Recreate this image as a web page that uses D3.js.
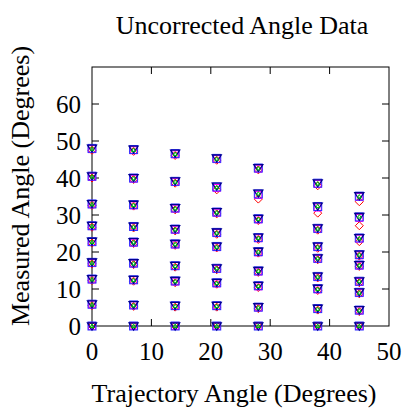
<!DOCTYPE html>
<html>
<head>
<meta charset="utf-8">
<script src="https://cdn.jsdelivr.net/npm/d3@7"></script>
<style>
  body { margin: 0; background: #fff; }
  svg text { font-family: "Liberation Serif", "DejaVu Serif", serif; fill: #000; }
</style>
</head>
<body>
<svg id="chart"></svg>
<script>
// trajectory angles (x) and measured angles per column (y)
var trajectory = [0, 7, 14, 21, 28, 38, 45];

var blueSquare = [
  [48.0, 40.5, 33.0, 27.1, 22.8, 17.2, 12.7, 5.9, 0],
  [47.7, 40.0, 32.8, 26.9, 22.7, 17.0, 12.5, 5.7, 0],
  [46.6, 39.1, 31.9, 26.2, 22.2, 16.3, 12.2, 5.5, 0],
  [45.3, 37.6, 30.8, 25.3, 21.5, 15.6, 11.7, 5.5, 0],
  [42.7, 35.7, 29.0, 23.9, 20.1, 14.9, 10.9, 5.1, 0],
  [38.6, 32.3, 26.4, 21.5, 18.3, 13.4, 10.1, 4.7, 0],
  [35.1, 29.5, 23.8, 19.3, 16.5, 12.1, 9.1, 4.3, 0]
];
var magentaSquare = [
  [47.8, 40.3, 32.9, 27.0, 22.7, 17.0, 12.6, 5.8, 0],
  [47.5, 39.8, 32.6, 26.8, 22.5, 16.9, 12.4, 5.6, 0],
  [46.4, 38.9, 31.7, 26.0, 22.0, 16.2, 12.0, 5.4, 0],
  [45.1, 37.3, 30.6, 25.1, 21.3, 15.4, 11.5, 5.4, 0],
  [42.5, 35.4, 28.8, 23.7, 19.9, 14.7, 10.7, 5.0, 0],
  [38.4, 32.0, 26.2, 21.3, 18.1, 13.2, 9.9, 4.6, 0],
  [34.9, 29.2, 23.6, 19.1, 16.3, 11.9, 8.9, 4.2, 0]
];
var navyTriangle = [
  [48.1, 40.6, 33.1, 27.2, 22.9, 17.3, 12.8, 6.0, 0],
  [47.8, 40.1, 32.9, 27.0, 22.8, 17.1, 12.6, 5.8, 0],
  [46.7, 39.2, 32.0, 26.3, 22.3, 16.4, 12.3, 5.6, 0],
  [45.4, 37.8, 30.9, 25.4, 21.6, 15.7, 11.8, 5.6, 0],
  [42.8, 35.9, 29.1, 24.0, 20.2, 15.0, 11.0, 5.2, 0],
  [38.7, 32.4, 26.5, 21.6, 18.4, 13.5, 10.2, 4.8, 0],
  [35.2, 29.6, 23.9, 19.4, 16.6, 12.2, 9.2, 4.4, 0]
];
var greenTriangle = [
  [47.9, 40.4, 32.9, 27.0, 22.7, 17.1, 12.6, 5.8, 0],
  [47.6, 39.9, 32.7, 26.8, 22.6, 16.9, 12.4, 5.6, 0],
  [46.5, 39.0, 31.8, 26.1, 22.1, 16.2, 12.1, 5.4, 0],
  [45.2, 37.5, 30.7, 25.2, 21.4, 15.6, 11.6, 5.4, 0],
  [42.6, 35.8, 28.9, 23.8, 20.1, 14.9, 10.8, 5.0, 0],
  [38.5, 32.4, 26.3, 21.4, 18.3, 13.3, 10.0, 4.6, 0],
  [35.0, 29.6, 23.7, 19.3, 16.4, 12.1, 9.0, 4.2, 0]
];
var redDiamond = [
  [47.5, 40.0, 32.6, 26.7, 22.4, 16.8, 12.3, 5.5, 0],
  [47.2, 39.6, 32.4, 26.5, 22.3, 16.6, 12.1, 5.3, 0],
  [46.1, 38.6, 31.4, 25.7, 21.8, 15.9, 11.7, 5.1, 0],
  [44.8, 36.8, 30.3, 24.8, 21.1, 15.2, 11.3, 5.1, 0],
  [42.2, 34.3, 28.5, 23.4, 19.7, 14.5, 10.4, 4.7, 0],
  [37.9, 30.5, 25.9, 21.0, 17.9, 13.0, 9.6, 4.3, 0],
  [33.6, 27.1, 22.8, 18.9, 16.1, 11.7, 8.7, 3.9, 0]
];

var xTicks = [0, 10, 20, 30, 40, 50];
var yTicks = [0, 10, 20, 30, 40, 50, 60];

var screen = {width: 404, height: 412};
var plot = {left: 92, right: 389, top: 67, bottom: 326};

var svg = d3.select("#chart")
  .attr("width", screen.width)
  .attr("height", screen.height);

var x = d3.scaleLinear().domain([0, 50]).range([plot.left, plot.right]);
var y = d3.scaleLinear().domain([0, 70]).range([plot.bottom, plot.top]);

// turn a column table into points
var toPoints = function(table) {
  var pts = [];
  table.forEach(function(col, i) {
    col.forEach(function(v) { pts.push({x: trajectory[i], y: v}); });
  });
  return pts;
};

// tick marks, pointing inwards on all four sides
var ticks = svg.append("g").attr("stroke", "#000").attr("stroke-width", 1);
xTicks.slice(1, -1).forEach(function(t) {
  ticks.append("line").attr("x1", x(t)).attr("x2", x(t)).attr("y1", plot.bottom).attr("y2", plot.bottom - 7);
  ticks.append("line").attr("x1", x(t)).attr("x2", x(t)).attr("y1", plot.top).attr("y2", plot.top + 7);
});
yTicks.slice(1).forEach(function(t) {
  ticks.append("line").attr("x1", plot.left).attr("x2", plot.left + 7).attr("y1", y(t)).attr("y2", y(t));
  ticks.append("line").attr("x1", plot.right).attr("x2", plot.right - 7).attr("y1", y(t)).attr("y2", y(t));
});

// frame
svg.append("rect")
  .attr("x", plot.left).attr("y", plot.top)
  .attr("width", plot.right - plot.left).attr("height", plot.bottom - plot.top)
  .attr("fill", "none").attr("stroke", "#000").attr("stroke-width", 1);

// tick labels
svg.append("g").selectAll("text").data(xTicks).enter().append("text")
  .attr("x", function(d) { return x(d); })
  .attr("y", plot.bottom + 34)
  .attr("text-anchor", "middle")
  .style("font-size", "25px")
  .text(function(d) { return d; });

svg.append("g").selectAll("text").data(yTicks).enter().append("text")
  .attr("x", plot.left - 11)
  .attr("y", function(d) { return y(d); })
  .attr("dy", "0.35em")
  .attr("text-anchor", "end")
  .style("font-size", "25px")
  .text(function(d) { return d; });

// titles
svg.append("text").attr("x", 242).attr("y", 34).attr("text-anchor", "middle")
  .style("font-size", "26px").text("Uncorrected Angle Data");
svg.append("text").attr("x", 234).attr("y", 402).attr("text-anchor", "middle")
  .style("font-size", "26px").text("Trajectory Angle (Degrees)");
svg.append("text").attr("transform", "translate(29,186) rotate(-90)").attr("text-anchor", "middle")
  .style("font-size", "26px").text("Measured Angle (Degrees)");

// markers
var marks = svg.append("g").attr("fill", "none").attr("stroke-width", 1);

marks.selectAll(".red").data(toPoints(redDiamond)).enter().append("path").attr("class", "red")
  .attr("d", function(d) { var cx = x(d.x), cy = y(d.y);
    return "M" + cx + "," + (cy - 4) + "L" + (cx + 4) + "," + cy + "L" + cx + "," + (cy + 4) + "L" + (cx - 4) + "," + cy + "Z"; })
  .attr("stroke", "#ff0000");

marks.selectAll(".mag").data(toPoints(magentaSquare)).enter().append("rect").attr("class", "mag")
  .attr("x", function(d) { return x(d.x) - 3.5; })
  .attr("y", function(d) { return y(d.y) - 3.5; })
  .attr("width", 7).attr("height", 7)
  .attr("stroke", "#ff00ff");

marks.selectAll(".blue").data(toPoints(blueSquare)).enter().append("rect").attr("class", "blue")
  .attr("x", function(d) { return x(d.x) - 4; })
  .attr("y", function(d) { return y(d.y) - 4; })
  .attr("width", 8).attr("height", 8)
  .attr("stroke", "#3030ff");

marks.selectAll(".navy").data(toPoints(navyTriangle)).enter().append("path").attr("class", "navy")
  .attr("d", function(d) { var cx = x(d.x), cy = y(d.y);
    return "M" + (cx - 4.5) + "," + (cy - 3) + "L" + (cx + 4.5) + "," + (cy - 3) + "L" + cx + "," + (cy + 4) + "Z"; })
  .attr("stroke", "#000090").attr("stroke-width", 1.3);

marks.selectAll(".green").data(toPoints(greenTriangle)).enter().append("path").attr("class", "green")
  .attr("d", function(d) { var cx = x(d.x), cy = y(d.y);
    return "M" + (cx - 2) + "," + (cy + 1.5) + "L" + (cx + 2) + "," + (cy + 1.5) + "L" + cx + "," + (cy - 2) + "Z"; })
  .attr("stroke", "#00c000");
</script>
</body>
</html>
